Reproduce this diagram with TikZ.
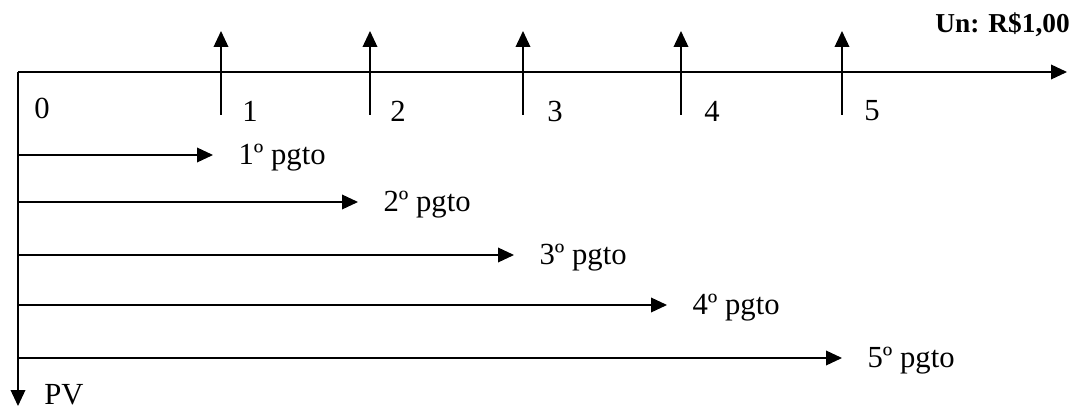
\documentclass[tikz,border=0pt]{standalone}
\usepackage{fontspec}
\setmainfont{Liberation Serif}
\usetikzlibrary{arrows.meta}
\begin{document}
\begin{tikzpicture}[x=0.75pt,y=-0.75pt,
  ln/.style={line width=1.1pt},
  arr/.style={ln,-{Triangle[length=12pt,width=11pt]}},
  lbl/.style={font=\fontsize{23}{25}\selectfont,inner sep=0pt},
  plbl/.style={lbl,anchor=west}]
\useasboundingbox (0,0) rectangle (1082,410);
% axis
\coordinate (o) at (18,72);
\coordinate (axend) at (1067,72);
\coordinate (pv) at (18,406);
\draw[arr] (o) -- (axend);
\draw[arr] (o) -- (pv);
\node[lbl,anchor=west] (pvl) at (44,395) {PV};
\node[lbl] (l0) at (42,108) {0};
\node[font=\bfseries\fontsize{20.5}{22}\selectfont,inner sep=0pt,anchor=east] (un) at (1070,25) {Un: R\$1,00};
% upward arrows
\foreach \i/\x/\lx in {1/221/250,2/370/398,3/523/555,4/681/712,5/842/872}{
  \coordinate (b\i) at (\x,115);
  \coordinate (t\i) at (\x,31);
  \draw[arr] (b\i) -- (t\i);
  \node[lbl] (n\i) at (\lx,111) {\i};
}
% payment arrows
\foreach \i/\y/\tx in {1/155/213,2/202/358,3/255/514,4/305/667,5/358/842}{
  \coordinate (s\i) at (18,\y);
  \coordinate (e\i) at (\tx,\y);
  \draw[arr] (s\i) -- (e\i);
  \node[plbl] (p\i) at ([xshift=19pt,yshift=-2pt]e\i) {\i\textordmasculine\ pgto};
}
\end{tikzpicture}
\end{document}
